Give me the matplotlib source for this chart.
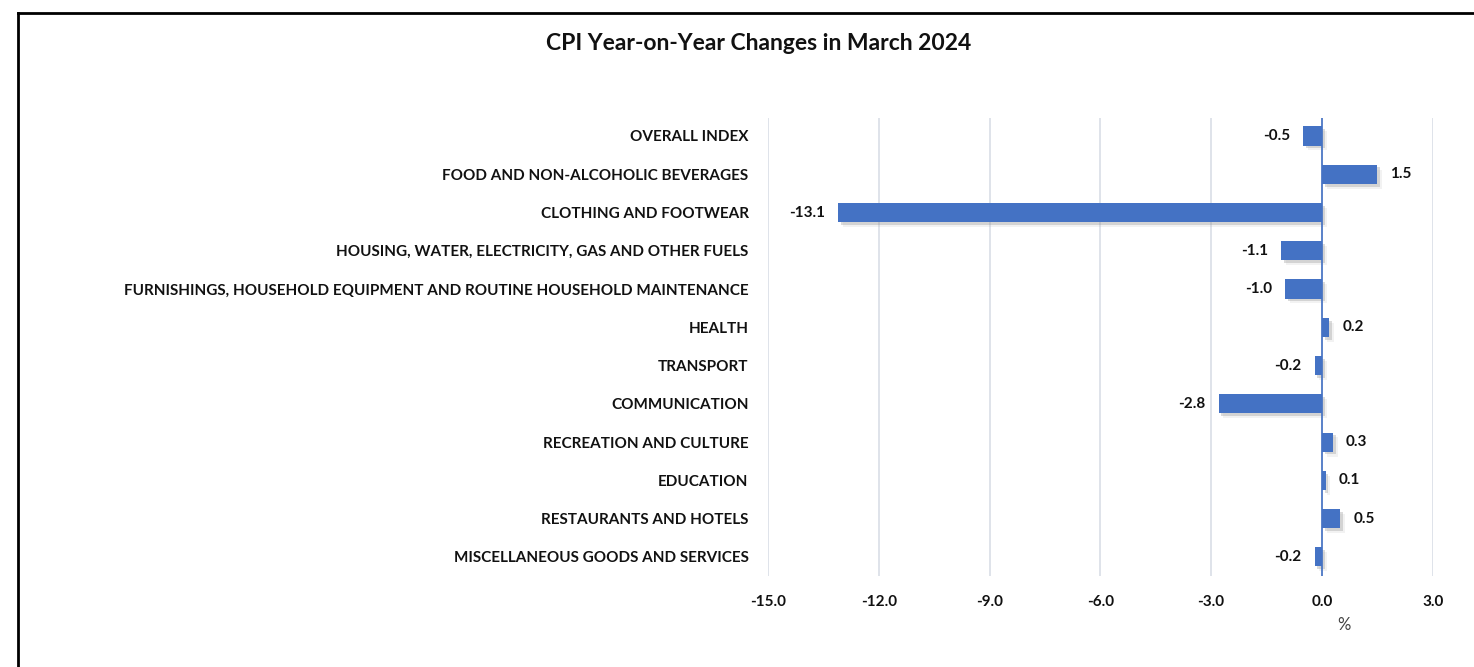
import matplotlib.pyplot as plt
import matplotlib.patheffects as pe

plt.rcParams['font.family'] = ['Lato', 'DejaVu Sans']

categories = [
    "OVERALL INDEX",
    "FOOD AND NON-ALCOHOLIC BEVERAGES",
    "CLOTHING AND FOOTWEAR",
    "HOUSING, WATER, ELECTRICITY, GAS AND OTHER FUELS",
    "FURNISHINGS, HOUSEHOLD EQUIPMENT AND ROUTINE HOUSEHOLD MAINTENANCE",
    "HEALTH",
    "TRANSPORT",
    "COMMUNICATION",
    "RECREATION AND CULTURE",
    "EDUCATION",
    "RESTAURANTS AND HOTELS",
    "MISCELLANEOUS GOODS AND SERVICES",
]
changes = [-0.5, 1.5, -13.1, -1.1, -1.0, 0.2, -0.2, -2.8, 0.3, 0.1, 0.5, -0.2]
xticks = [-15.0, -12.0, -9.0, -6.0, -3.0, 0.0, 3.0]

BLUE = "#4472C4"

fig = plt.figure(figsize=(14.74, 6.67), dpi=100)
ax = fig.add_axes([0.521, 0.1364, 0.451, 0.6867])

y = list(range(len(categories)))
bars = ax.barh(y, changes, height=0.5, color=BLUE, zorder=3)
# soft drop shadow like the Excel original
for b in bars:
    b.set_path_effects([pe.SimplePatchShadow(offset=(2, -2), shadow_rgbFace="#888888", alpha=0.3),
                        pe.SimplePatchShadow(offset=(3.5, -3.5), shadow_rgbFace="#aaaaaa", alpha=0.15),
                        pe.Normal()])

for yi, v in zip(y, changes):
    off = 0.35 if v >= 0 else -0.35
    ax.text(v + off, yi, f"{v:.1f}", ha="left" if v >= 0 else "right", va="center",
            fontsize=11, fontweight="bold", color="#111111")

ax.axvline(0, color=BLUE, lw=1.2, zorder=4)
ax.set_xlim(-15, 3)
ax.set_ylim(len(categories) - 0.5, -0.47)
ax.set_xticks(xticks)
ax.set_xticklabels([f"{t:.1f}" for t in xticks], fontsize=11, fontweight="bold", color="#111111")
ax.set_yticks(y)
ax.set_yticklabels(categories, fontsize=11, fontweight="bold", color="#111111")
ax.tick_params(length=0, pad=14, axis="y")
ax.tick_params(length=0, pad=14, axis="x")
ax.grid(axis="x", color="#D9DEE6", lw=1.2, zorder=0)
for s in ax.spines.values():
    s.set_visible(False)

ax.set_xlabel("%", fontsize=12, color="#404040", labelpad=2)
ax.xaxis.set_label_coords(0.867, -0.09)

fig.text(0.515, 0.935, "CPI Year-on-Year Changes in March 2024", ha="center", va="center",
         fontsize=16.5, fontweight="bold", color="#111111")

# outer frame (only top and left visible in reference)
fig.add_artist(plt.Line2D([18 / 1474, 18 / 1474], [0, 1 - 13 / 667], transform=fig.transFigure,
                          color="black", lw=2))
fig.add_artist(plt.Line2D([18 / 1474, 1], [1 - 13 / 667, 1 - 13 / 667], transform=fig.transFigure,
                          color="black", lw=2))

fig.savefig("out.png", dpi=100)
